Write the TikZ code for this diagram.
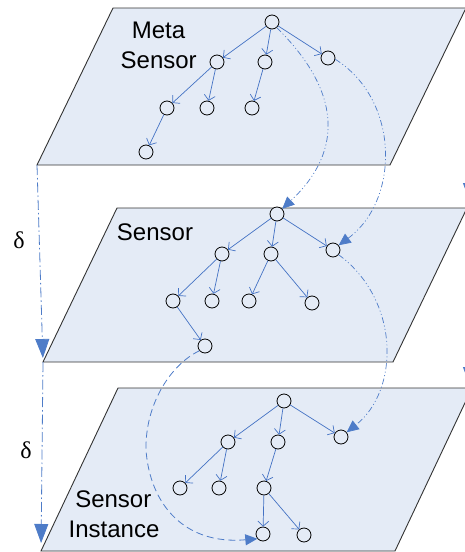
\documentclass[tikz,border=0pt]{standalone}
\usepackage{fontspec}
\setmainfont{Liberation Sans}
\newfontfamily\serifd{Liberation Serif}
\usetikzlibrary{arrows.meta}
\definecolor{planefill}{RGB}{228,235,246}
\definecolor{edgeblue}{RGB}{68,114,196}
\definecolor{linkblue}{RGB}{78,124,200}
\begin{document}
\begin{tikzpicture}[x=1pt,y=-1pt,
  plane/.style={fill=planefill,draw=black!80,line width=0.9pt},
  tn/.style={circle,draw=black,line width=0.8pt,minimum size=14pt,inner sep=0pt,fill=planefill},
  tedge/.style={draw=edgeblue,line width=0.7pt,-{Straight Barb[length=5pt,width=11pt]}},
  lbl/.style={font=\fontsize{24}{28}\selectfont,anchor=base,inner sep=0pt},
  dlbl/.style={font=\serifd\fontsize{24}{28}\selectfont,anchor=base,inner sep=0pt},
  ddot/.style={draw=linkblue,line width=0.7pt,dash pattern=on 6pt off 2.5pt on 1pt off 2.5pt on 1pt off 2.5pt,-{Triangle[length=12pt,width=11pt]}},
  dlong/.style={draw=linkblue,line width=0.8pt,dash pattern=on 7pt off 4pt,-{Triangle[length=12pt,width=11pt]}},
  dgap/.style={draw=linkblue,line width=0.8pt,dash pattern=on 10pt off 3pt on 1.5pt off 3pt,-{Triangle[length=19pt,width=14pt]}}
]
\useasboundingbox (0,0) rectangle (465,552);
\clip (0,0) rectangle (465,552);

% planes
\draw[plane] (113,8) -- (466,8) -- (390,165) -- (37,165) -- cycle;
\draw[plane] (117,208) -- (467,208) -- (393,362) -- (43,362) -- cycle;
\draw[plane] (118,388) -- (472,388) -- (395,551) -- (41,551) -- cycle;

\coordinate (p1bl) at (37,165);
\coordinate (p2bl) at (43,362);
\coordinate (p3bl) at (41,551);
\coordinate (r1a) at (470,8);
\coordinate (r1b) at (470,202);
\coordinate (r2a) at (470,208);
\coordinate (r2b) at (470,386);

% labels
\node[lbl] (m1) at (158.5,38) {Meta};
\node[lbl] (m2) at (158.7,68) {Sensor};
\node[lbl] (s1) at (155,240) {Sensor};
\node[lbl] (i1) at (113.3,507) {Sensor};
\node[lbl] (i2) at (114,537) {Instance};
\node[dlbl] (d1) at (19,248) {δ};
\node[dlbl] (d2) at (26,458) {δ};

% tree 1
\node[tn] (a1) at (272,22) {};
\node[tn] (b1) at (217,62) {};
\node[tn] (c1) at (265,62) {};
\node[tn] (e1) at (328,58) {};
\node[tn] (f1) at (167,108) {};
\node[tn] (g1) at (207,108) {};
\node[tn] (h1) at (252,108) {};
\node[tn] (k1) at (146,152) {};
\draw[tedge] (a1) -- (b1);
\draw[tedge] (a1) -- (c1);
\draw[tedge] (a1) -- (e1);
\draw[tedge] (b1) -- (f1);
\draw[tedge] (b1) -- (g1);
\draw[tedge] (c1) -- (h1);
\draw[tedge] (f1) -- (k1);

% tree 2
\node[tn] (a2) at (277,214) {};
\node[tn] (b2) at (222,254) {};
\node[tn] (c2) at (271,254) {};
\node[tn] (e2) at (333,250) {};
\node[tn] (f2) at (173,301) {};
\node[tn] (g2) at (212,301) {};
\node[tn] (h2) at (249,301) {};
\node[tn] (j2) at (312,303) {};
\node[tn] (k2) at (205,346) {};
\draw[tedge] (a2) -- (b2);
\draw[tedge] (a2) -- (c2);
\draw[tedge] (a2) -- (e2);
\draw[tedge] (b2) -- (f2);
\draw[tedge] (b2) -- (g2);
\draw[tedge] (c2) -- (h2);
\draw[tedge] (c2) -- (j2);
\draw[tedge] (f2) -- (k2);

% tree 3
\node[tn] (a3) at (284,401) {};
\node[tn] (b3) at (228,442) {};
\node[tn] (c3) at (278,442) {};
\node[tn] (e3) at (341,437) {};
\node[tn] (f3) at (180,488) {};
\node[tn] (g3) at (219,488) {};
\node[tn] (h3) at (264,488) {};
\node[tn] (j3) at (263,534) {};
\node[tn] (k3) at (304,535) {};
\draw[tedge] (a3) -- (b3);
\draw[tedge] (a3) -- (c3);
\draw[tedge] (a3) -- (e3);
\draw[tedge] (b3) -- (f3);
\draw[tedge] (b3) -- (g3);
\draw[tedge] (c3) -- (h3);
\draw[tedge] (h3) -- (j3);
\draw[tedge] (h3) -- (k3);

% inter-plane links
\draw[ddot] (a1.-50) .. controls (340,90) and (345,150) .. (a2.45);
\draw[ddot] (e1.-10) .. controls (400,100) and (400,200) .. (e2.40);
\draw[ddot] (e2.-40) .. controls (400,300) and (400,390) .. (e3.40);
\draw[dlong] (k2.-140) .. controls (170,365) and (145,405) .. (146,450)
   .. controls (150,505) and (185,545) .. (j3.-140);

% delta arrows
\draw[dgap,shorten >=4pt] (p1bl) -- (p2bl);
\draw[dgap,shorten >=8pt] (p2bl) -- (p3bl);
\draw[dgap] (r1a) -- (r1b);
\draw[dgap] (r2a) -- (r2b);
\end{tikzpicture}
\end{document}
